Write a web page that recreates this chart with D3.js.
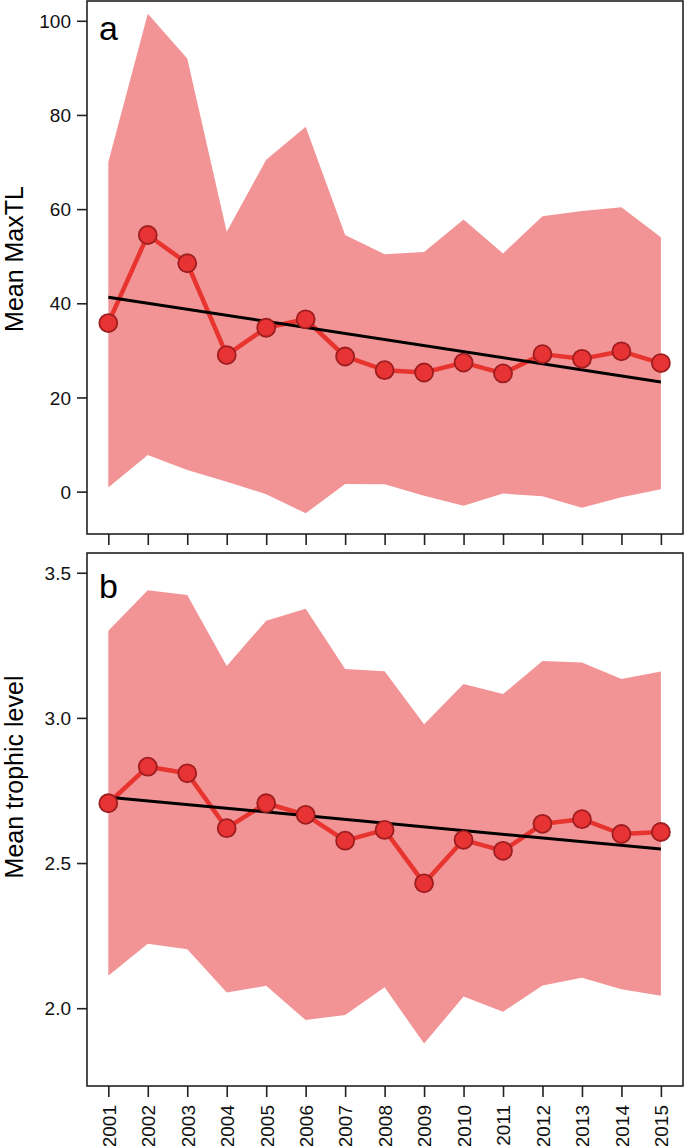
<!DOCTYPE html>
<html>
<head>
<meta charset="utf-8">
<script src="https://cdn.jsdelivr.net/npm/d3@7"></script>
<style>
  body { margin: 0; background: #fff; }
  text { font-family: "Liberation Sans", Arial, Helvetica, sans-serif; }
</style>
</head>
<body>
<div id="chart"></div>
<script>
// values
var years = [2001, 2002, 2003, 2004, 2005, 2006, 2007, 2008, 2009, 2010, 2011, 2012, 2013, 2014, 2015];

var maxTL      = [35.8, 54.5, 48.5, 29.0, 34.8, 36.6, 28.7, 25.8, 25.3, 27.4, 25.1, 29.2, 28.2, 29.8, 27.3];
var maxTLUpper = [70.0, 101.5, 92.0, 55.2, 70.5, 77.5, 54.5, 50.4, 50.9, 57.8, 50.6, 58.5, 59.6, 60.4, 54.0];
var maxTLLower = [0.9, 7.8, 4.6, 2.1, -0.55, -4.6, 1.6, 1.57, -0.85, -3.0, -0.42, -0.98, -3.4, -1.2, 0.5];
var maxTLTrend = [41.3, 23.3];
var maxTLTicks = [0, 20, 40, 60, 80, 100];

var trophic      = [2.706, 2.832, 2.809, 2.620, 2.706, 2.666, 2.577, 2.614, 2.430, 2.580, 2.542, 2.635, 2.651, 2.600, 2.607];
var trophicUpper = [3.300, 3.440, 3.423, 3.179, 3.335, 3.376, 3.168, 3.161, 2.978, 3.117, 3.082, 3.196, 3.191, 3.134, 3.160];
var trophicLower = [2.112, 2.222, 2.203, 2.054, 2.077, 1.959, 1.977, 2.072, 1.878, 2.040, 1.988, 2.078, 2.105, 2.065, 2.043];
var trophicTrend = [2.727, 2.548];
var trophicTicks = [2.0, 2.5, 3.0, 3.5];

var svgWidth = 685;
var svgHeight = 1146;

var svg = d3.select("#chart")
    .append("svg")
    .attr("width", svgWidth)
    .attr("height", svgHeight);

var left = 87, right = 683;

var xScale = d3.scaleLinear()
    .domain([2000.46, 2015.56])
    .range([left, right]);

var bandColor = "#f29496";
var lineColor = "#e8342f";
var pointFill = "#e73333";
var pointStroke = "#9e1d1f";

function drawPanel(opts) {
    var y = d3.scaleLinear()
        .domain(opts.domain)
        .range([opts.bottom, opts.top]);

    var g = svg.append("g");

    var area = d3.area()
        .x(function(d, i) { return xScale(years[i]); })
        .y0(function(d, i) { return y(opts.lower[i]); })
        .y1(function(d) { return y(d); });

    g.append("path")
        .datum(opts.upper)
        .attr("d", area)
        .attr("fill", bandColor);

    var line = d3.line()
        .x(function(d, i) { return xScale(years[i]); })
        .y(function(d) { return y(d); });

    g.append("path")
        .datum(opts.values)
        .attr("d", line)
        .attr("fill", "none")
        .attr("stroke", lineColor)
        .attr("stroke-width", 4.5)
        .attr("stroke-linejoin", "round");

    g.append("line")
        .attr("x1", xScale(years[0]))
        .attr("x2", xScale(years[years.length - 1]))
        .attr("y1", y(opts.trend[0]))
        .attr("y2", y(opts.trend[1]))
        .attr("stroke", "#000")
        .attr("stroke-width", 3);

    g.selectAll("circle")
        .data(opts.values)
        .enter()
        .append("circle")
        .attr("cx", function(d, i) { return xScale(years[i]); })
        .attr("cy", function(d) { return y(d); })
        .attr("r", 9)
        .attr("fill", pointFill)
        .attr("stroke", pointStroke)
        .attr("stroke-width", 1.8);

    // frame
    g.append("rect")
        .attr("x", left)
        .attr("y", opts.top)
        .attr("width", right - left)
        .attr("height", opts.bottom - opts.top)
        .attr("fill", "none")
        .attr("stroke", "#222")
        .attr("stroke-width", 1.6);

    // y axis
    var leftAxis = d3.axisLeft(y)
        .tickValues(opts.ticks)
        .tickSize(10)
        .tickPadding(6)
        .tickFormat(opts.format);

    var yAxis = g.append("g")
        .attr("transform", "translate(" + left + ",0)")
        .call(leftAxis);
    yAxis.select(".domain").remove();
    yAxis.selectAll("line").attr("stroke", "#222").attr("stroke-width", 1.6);
    yAxis.selectAll("text")
        .attr("font-size", 19)
        .attr("fill", "#111")
        .attr("dy", "0.35em");

    // x axis ticks
    var bottomAxis = d3.axisBottom(xScale)
        .tickValues(years)
        .tickSize(11)
        .tickPadding(8)
        .tickFormat(opts.showYears ? d3.format("d") : "");

    var xAxis = g.append("g")
        .attr("transform", "translate(0," + opts.bottom + ")")
        .call(bottomAxis);
    xAxis.select(".domain").remove();
    xAxis.selectAll("line").attr("stroke", "#222").attr("stroke-width", 1.6);
    if (opts.showYears) {
        xAxis.selectAll("text")
            .attr("font-size", 19)
            .attr("fill", "#111")
            .attr("transform", "rotate(-90)")
            .attr("text-anchor", "end")
            .attr("x", -19)
            .attr("y", 0)
            .attr("dy", "0.36em");
    }

    // panel letter
    g.append("text")
        .attr("x", 99)
        .attr("y", opts.top + opts.letterY)
        .attr("font-size", 34)
        .attr("fill", "#000")
        .text(opts.letter);

    // axis title
    g.append("text")
        .attr("transform", "translate(23," + opts.titleY + ") rotate(-90)")
        .attr("text-anchor", "middle")
        .attr("font-size", 25)
        .attr("fill", "#000")
        .text(opts.title);
}

drawPanel({
    top: 1, bottom: 534,
    domain: [-9.0, 104.2],
    values: maxTL, upper: maxTLUpper, lower: maxTLLower, trend: maxTLTrend,
    ticks: maxTLTicks, format: d3.format("d"),
    letter: "a", letterY: 39,
    title: "Mean MaxTL", titleY: 259,
    showYears: false
});

drawPanel({
    top: 553, bottom: 1086,
    domain: [1.732, 3.568],
    values: trophic, upper: trophicUpper, lower: trophicLower, trend: trophicTrend,
    ticks: trophicTicks, format: d3.format(".1f"),
    letter: "b", letterY: 45,
    title: "Mean trophic level", titleY: 777,
    showYears: true
});
</script>
</body>
</html>
